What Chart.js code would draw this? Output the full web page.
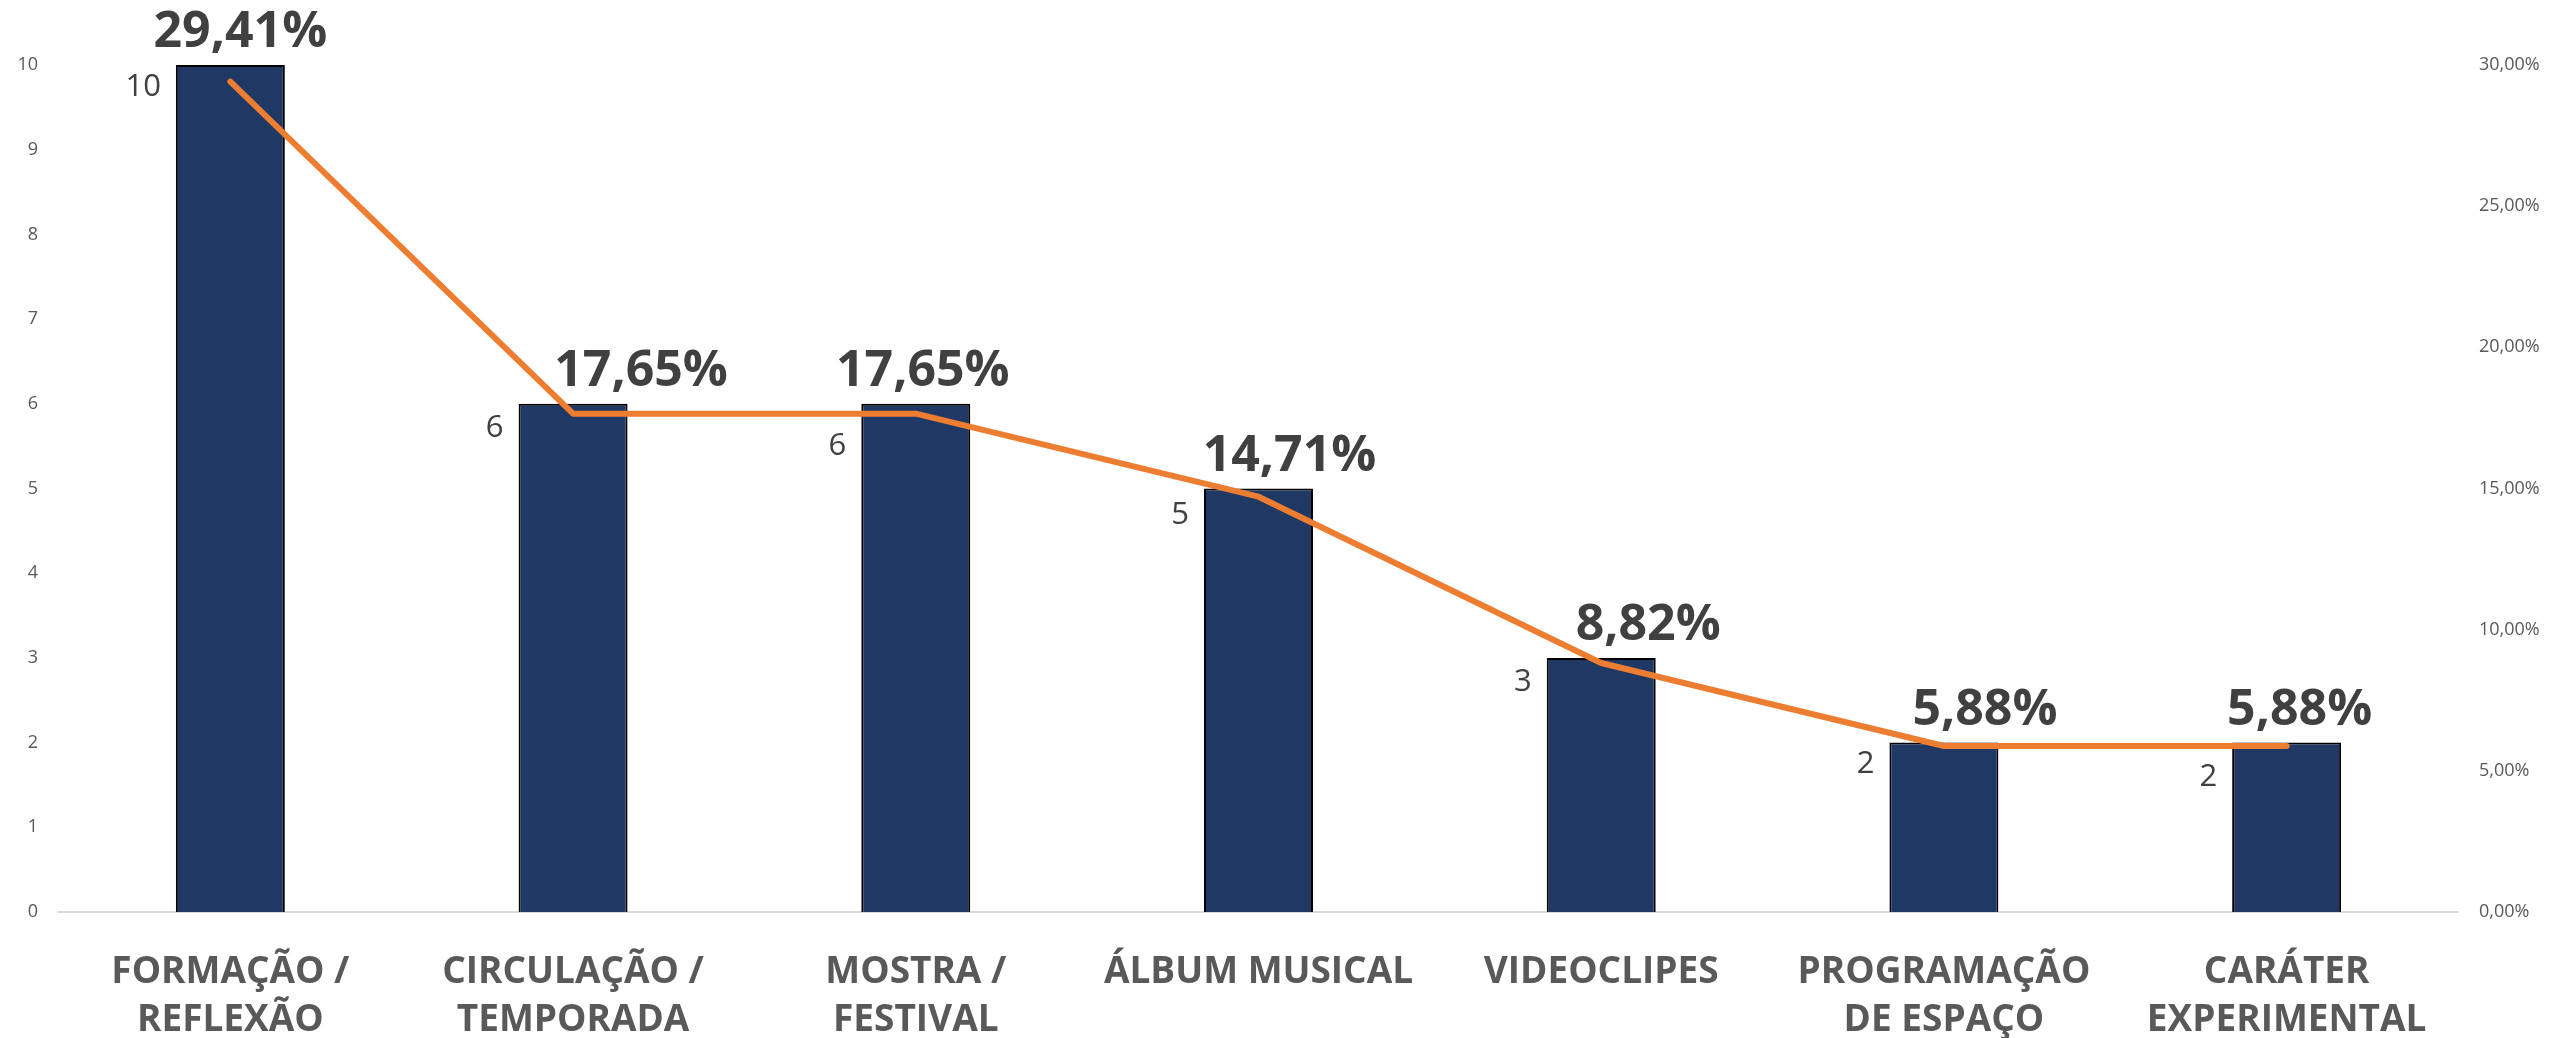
<!DOCTYPE html>
<html>
<head>
<meta charset="utf-8">
<script src="https://cdn.jsdelivr.net/npm/chart.js@4.4.1/dist/chart.umd.min.js"></script>
<style>
  body { margin: 0; background: #fff; }
  canvas { display: block; }
</style>
</head>
<body>
<canvas id="bar-chart" width="2552" height="1038"></canvas>
<script>
var categories = [
  ["FORMAÇÃO /", "REFLEXÃO"],
  ["CIRCULAÇÃO /", "TEMPORADA"],
  ["MOSTRA /", "FESTIVAL"],
  "ÁLBUM MUSICAL",
  "VIDEOCLIPES",
  ["PROGRAMAÇÃO", "DE ESPAÇO"],
  ["CARÁTER", "EXPERIMENTAL"]
];
var counts = [10, 6, 6, 5, 3, 2, 2];
var shares = [0.2941, 0.1765, 0.1765, 0.1471, 0.0882, 0.0588, 0.0588];

// label nudges, Excel had them moved by hand
var pctShiftX = [10, 68, 7, 31, 47, 41, 13];
var cntShiftY = [22, 24, 42, 27, 24, 22, 35];

function pct(v) {
  return (v * 100).toFixed(2).replace('.', ',') + '%';
}

var barLabels = {
  id: 'barLabels',
  afterDatasetsDraw: function(chart) {
    var ctx = chart.ctx;
    var bars = chart.getDatasetMeta(1).data;
    ctx.save();
    bars.forEach(function(bar, i) {
      var left = bar.x - bar.width / 2;
      // count, left of the bar
      ctx.font = '31px "Open Sans"';
      ctx.fillStyle = '#404040';
      ctx.textAlign = 'right';
      ctx.textBaseline = 'middle';
      ctx.fillText(String(counts[i]), left - 15, bar.y + cntShiftY[i]);
      // share, above the bar
      ctx.font = 'bold 50px "Open Sans"';
      ctx.textAlign = 'center';
      ctx.textBaseline = 'alphabetic';
      ctx.fillText(pct(shares[i]), bar.x + pctShiftX[i], bar.y - 18);
    });
    ctx.restore();
  }
};

var ctx = document.getElementById('bar-chart');
var chart = new Chart(ctx, {
  type: 'bar',
  data: {
    labels: categories,
    datasets: [
      {
        type: 'line',
        label: '%',
        data: shares,
        yAxisID: 'y1',
        borderColor: '#ED7D31',
        borderWidth: 6,
        borderCapStyle: 'round',
        borderJoinStyle: 'round',
        pointRadius: 0,
        tension: 0,
        fill: false,
        order: 0
      },
      {
        label: 'Qtd',
        data: counts,
        yAxisID: 'y',
        backgroundColor: '#203864',
        borderColor: '#000000',
        borderWidth: 2,
        categoryPercentage: 1,
        barPercentage: 0.318,
        order: 1
      }
    ]
  },
  plugins: [barLabels],
  options: {
    responsive: false,
    animation: false,
    devicePixelRatio: 1,
    layout: { padding: { top: 65, left: 0, right: 0, bottom: 0 } },
    plugins: {
      legend: { display: false },
      tooltip: { enabled: false }
    },
    scales: {
      x: {
        grid: { display: false, drawTicks: false },
        border: { display: true, color: '#d9d9d9', width: 2 },
        ticks: {
          color: '#595959',
          font: { family: 'Open Sans', weight: 'bold', size: 37, lineHeight: 1.3 },
          padding: 36,
          maxRotation: 0,
          autoSkip: false
        },
        afterFit: function(scale) { scale.height = 126; }
      },
      y: {
        position: 'left',
        min: 0,
        max: 10,
        grid: { display: false, drawTicks: false },
        border: { display: false },
        ticks: {
          stepSize: 1,
          color: '#595959',
          font: { family: 'Open Sans', size: 18 },
          padding: 21
        },
        afterFit: function(scale) { scale.width = 59; }
      },
      y1: {
        position: 'right',
        min: 0,
        max: 0.30,
        grid: { display: false, drawTicks: false },
        border: { display: false },
        ticks: {
          stepSize: 0.05,
          color: '#595959',
          font: { family: 'Open Sans', size: 18 },
          padding: 21,
          callback: function(v) { return pct(v); }
        },
        afterFit: function(scale) { scale.width = 94; }
      }
    }
  }
});
</script>
</body>
</html>
